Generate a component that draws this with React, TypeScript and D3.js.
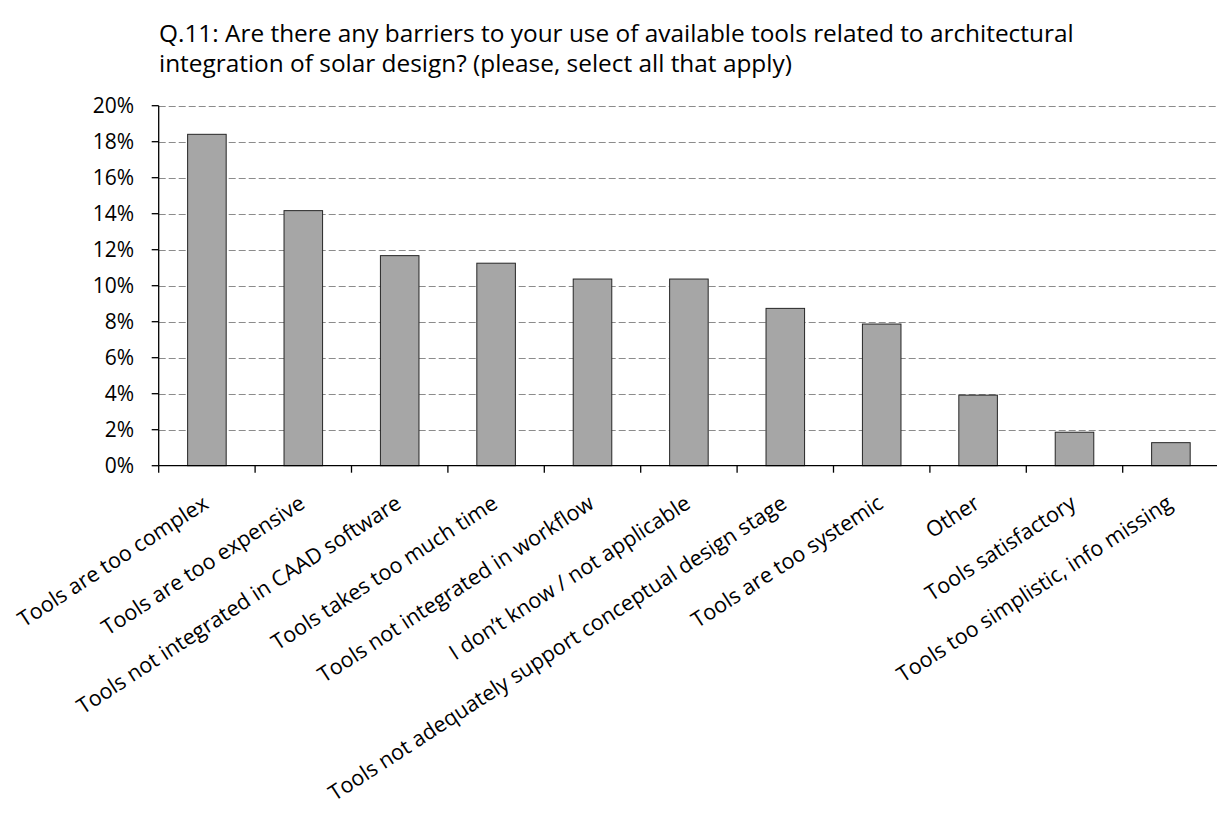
import React from "react";
import * as d3 from "d3";

const categories: string[] = [
  "Tools are too complex",
  "Tools are too expensive",
  "Tools not integrated in CAAD software",
  "Tools takes too much time",
  "Tools not integrated in workflow",
  "I don\u2019t know / not applicable",
  "Tools not adequately support conceptual design stage",
  "Tools are too systemic",
  "Other",
  "Tools satisfactory",
  "Tools too simplistic, info missing",
];

const values: number[] = [0.1841, 0.1417, 0.1167, 0.1125, 0.1037, 0.1037, 0.0874, 0.0787, 0.0392, 0.0186, 0.0128];

const yTicks: number[] = [0, 0.02, 0.04, 0.06, 0.08, 0.1, 0.12, 0.14, 0.16, 0.18, 0.2];

const titleLines: string[] = [
  "Q.11: Are there any barriers to your use of available tools related to architectural",
  "integration of solar design? (please, select all that apply)",
];

const W = 1217;
const H = 820;
const FONT = "'Open Sans', sans-serif";

export default function App() {
  const left = 158.7;
  const step = 96.4;
  const top = 105.7;
  const bottom = 465.7;

  const x = d3
    .scaleBand<string>()
    .domain(categories)
    .range([left, left + step * categories.length])
    .paddingInner(0.6)
    .paddingOuter(0.3);

  const y = d3.scaleLinear().domain([0, 0.2]).range([bottom, top]);
  const bw = x.bandwidth();
  const st = x.step();
  const fmt = d3.format(".0%");

  const boundaries = categories.map((c) => (x(c) as number) - (st - bw) / 2);

  return (
    <svg
      width={W}
      height={H}
      style={{ position: "absolute", left: 0, top: 0, background: "#fff" }}
      fontFamily={FONT}
    >
      <rect x={0} y={0} width={W} height={H} fill="#fff" />
      {/* title */}
      <text x={159} y={42} fontSize={24.4} fill="#000">
        <tspan x={159} y={42}>{titleLines[0]}</tspan>
        <tspan x={159} y={72}>{titleLines[1]}</tspan>
      </text>

      {/* gridlines */}
      {yTicks
        .filter((t) => t > 0)
        .map((t) => (
          <line
            key={"g" + t}
            x1={left}
            x2={W}
            y1={Math.round(y(t)) + 0.5}
            y2={Math.round(y(t)) + 0.5}
            stroke="#8c8c8c"
            strokeWidth={1}
            strokeDasharray="7,3"
          />
        ))}

      {/* bars */}
      {categories.map((c, i) => (
        <rect
          key={"b" + i}
          x={x(c)}
          y={y(values[i])}
          width={bw}
          height={bottom - y(values[i])}
          fill="#a6a6a6"
          stroke="#262626"
          strokeWidth={1}
        />
      ))}

      {/* y axis */}
      <line x1={left} x2={left} y1={top} y2={bottom} stroke="#000" strokeWidth={1.3} />
      {yTicks.map((t) => (
        <g key={"yt" + t}>
          <line x1={left - 7} x2={left} y1={y(t)} y2={y(t)} stroke="#000" strokeWidth={1.3} />
          <text
            x={134}
            y={y(t)}
            dy="0.36em"
            textAnchor="end"
            fontSize={21}
            fill="#000"
          >
            {fmt(t)}
          </text>
        </g>
      ))}

      {/* x axis */}
      <line x1={left} x2={W} y1={bottom} y2={bottom} stroke="#000" strokeWidth={1.3} />
      {boundaries.map((b, i) => (
        <line key={"xt" + i} x1={b} x2={b} y1={bottom} y2={bottom + 7} stroke="#000" strokeWidth={1.3} />
      ))}

      {/* category labels */}
      {categories.map((c) => {
        const cx = (x(c) as number) + bw / 2;
        return (
          <text
            key={"l" + c}
            transform={`translate(${cx + 3},${507}) rotate(-33)`}
            textAnchor="end"
            fontSize={21.5}
            fill="#000"
          >
            {c}
          </text>
        );
      })}
    </svg>
  );
}
